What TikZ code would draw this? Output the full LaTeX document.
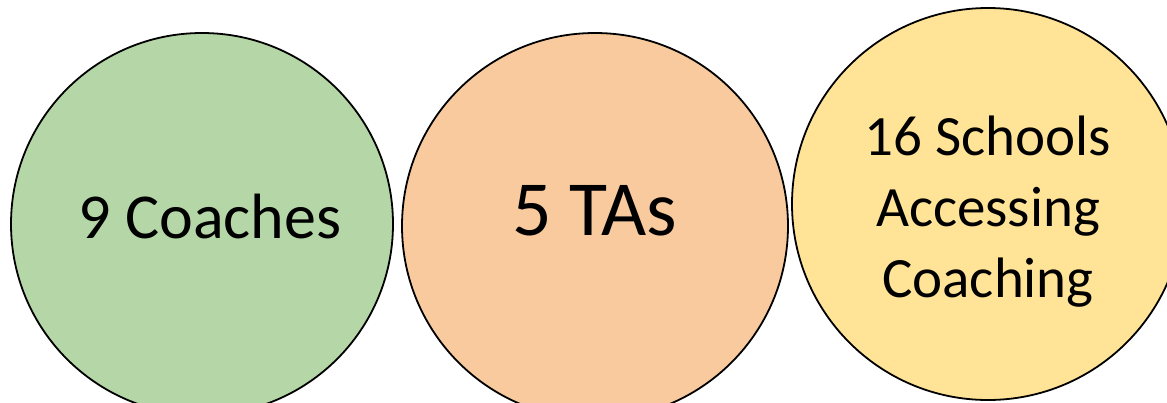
\documentclass[tikz,border=0pt]{standalone}
\usepackage{fontspec}
\setmainfont{Carlito}
\definecolor{cgreen}{HTML}{B5D7A8}
\definecolor{corange}{HTML}{F8CA9E}
\definecolor{cyellow}{HTML}{FFE498}
\tikzset{
  bubble/.style={circle, draw=black, line width=1.8pt, inner sep=0pt},
  lbl/.style={anchor=base, inner sep=0pt, text=black}
}
\begin{document}
\begin{tikzpicture}[x=1pt,y=-1pt]
\useasboundingbox (0,0) rectangle (1167,402);
\begin{scope}
\clip (0,0) rectangle (1167,402);
\node[bubble, fill=cgreen, minimum size=382pt] (c1) at (202,224) {};
\node[bubble, fill=corange, minimum size=386pt] (c2) at (595,226) {};
\node[bubble, fill=cyellow, minimum size=392pt] (c3) at (988,204) {};
\end{scope}
\node[lbl, font=\fontsize{64}{77}\selectfont] (t1) at (210,238) {9 Coaches};
\node[lbl, font=\fontsize{78}{94}\selectfont] (t2) at (595,235) {5 TAs};
\node[lbl, font=\fontsize{57}{70}\selectfont] (t3a) at (988,155) {16 Schools};
\node[lbl, font=\fontsize{57}{70}\selectfont] (t3b) at (988,226) {Accessing};
\node[lbl, font=\fontsize{57}{70}\selectfont] (t3c) at (988,297) {Coaching};
\end{tikzpicture}
\end{document}
